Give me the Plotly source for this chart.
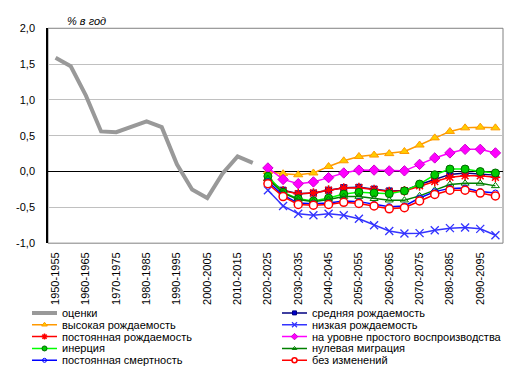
import plotly.graph_objects as go

# ---------------- data ----------------
categories = [f"{y}-{y+5}" for y in range(1950, 2100, 5)]
est_cats = categories[:14]
proj_cats = categories[14:]

estimates = [1.59, 1.47, 1.06, 0.56, 0.55, 0.63, 0.70, 0.62, 0.10, -0.25, -0.37, -0.03, 0.21, 0.12]

medium = [-0.11, -0.26, -0.31, -0.30, -0.26, -0.225, -0.22, -0.245, -0.27, -0.265, -0.18, -0.11, -0.04, -0.02, -0.03, -0.05]
high = [0.0, -0.03, -0.045, -0.02, 0.07, 0.15, 0.21, 0.23, 0.25, 0.28, 0.37, 0.47, 0.56, 0.61, 0.62, 0.61]
low = [-0.26, -0.48, -0.59, -0.61, -0.59, -0.61, -0.66, -0.75, -0.83, -0.865, -0.86, -0.82, -0.79, -0.78, -0.80, -0.89]
const_fert = [-0.12, -0.27, -0.31, -0.30, -0.26, -0.23, -0.225, -0.25, -0.28, -0.27, -0.20, -0.14, -0.08, -0.06, -0.06, -0.08]
replacement = [0.05, -0.11, -0.17, -0.145, -0.085, -0.02, 0.02, 0.02, 0.01, 0.01, 0.10, 0.19, 0.26, 0.31, 0.31, 0.26]
inertia = [-0.065, -0.29, -0.38, -0.41, -0.37, -0.315, -0.29, -0.30, -0.31, -0.27, -0.175, -0.045, 0.035, 0.035, 0.0, -0.02]
zero_mig = [-0.10, -0.30, -0.39, -0.42, -0.39, -0.35, -0.35, -0.38, -0.40, -0.40, -0.34, -0.26, -0.18, -0.165, -0.165, -0.20]
const_mort = [-0.14, -0.33, -0.44, -0.45, -0.44, -0.41, -0.42, -0.46, -0.49, -0.48, -0.37, -0.28, -0.235, -0.23, -0.28, -0.30]
no_change = [-0.17, -0.35, -0.46, -0.47, -0.46, -0.43, -0.445, -0.48, -0.52, -0.505, -0.41, -0.32, -0.26, -0.26, -0.30, -0.34]

names = ["оценки", "средняя рождаемость", "высокая рождаемость", "низкая рождаемость",
         "постоянная рождаемость", "на уровне простого воспроизводства", "инерция",
         "нулевая миграция", "постоянная смертность", "без изменений"]

y_tickvals = [-1.0, -0.5, 0.0, 0.5, 1.0, 1.5, 2.0]
y_ticktext = ["-1,0", "-0,5", "0,0", "0,5", "1,0", "1,5", "2,0"]
x_tickvals = categories[::2]

# ---------------- styles ----------------
W, H = 518, 376
FONT = "Liberation Sans, Arial, sans-serif"

styles = [
    dict(line=dict(color="#999999", width=4), marker=None),
    dict(line=dict(color="#000080", width=1.5), marker=dict(symbol="square", size=6, color="#0000CC", line=dict(color="#000080", width=1))),
    dict(line=dict(color="#FF9900", width=1.5), marker=dict(symbol="triangle-up", size=8, color="#FFCC00", line=dict(color="#FF9900", width=1))),
    dict(line=dict(color="#3333FF", width=1.5), marker=dict(symbol="x-thin-open", size=8, color="#3333FF", line=dict(color="#3333FF", width=1.3))),
    dict(line=dict(color="#FF0000", width=1.5), marker=dict(symbol="asterisk-open", size=8, color="#FF0000", line=dict(color="#FF0000", width=1.5))),
    dict(line=dict(color="#FF00FF", width=1.5), marker=dict(symbol="diamond", size=8, color="#FF00FF", line=dict(color="#CC00CC", width=1))),
    dict(line=dict(color="#00FF00", width=1.5), marker=dict(symbol="circle", size=8, color="#00CC00", line=dict(color="#006600", width=1))),
    dict(line=dict(color="#008000", width=1.5), marker=dict(symbol="triangle-up-open", size=7, color="#008000", line=dict(color="#008000", width=1))),
    dict(line=dict(color="#0000FF", width=1.5), marker=dict(symbol="circle-open", size=6, color="#0000FF", line=dict(color="#0000FF", width=1))),
    dict(line=dict(color="#FF0000", width=1.5), marker=dict(symbol="circle", size=8, color="#FFFFFF", line=dict(color="#FF0000", width=1.5))),
]

series = [estimates, medium, high, low, const_fert, replacement, inertia, zero_mig, const_mort, no_change]

fig = go.Figure()

for i, (nm, vals, st) in enumerate(zip(names, series, styles)):
    xs = est_cats if i == 0 else proj_cats
    kw = dict(x=xs, y=vals, name=nm, showlegend=False, line=st["line"], hoverinfo="skip")
    if st["marker"] is None:
        kw["mode"] = "lines"
    else:
        kw["mode"] = "lines+markers"
        kw["marker"] = st["marker"]
    fig.add_trace(go.Scatter(**kw))

# ---------------- custom compact legend (pixel-coordinate overlay axes) ----------------
LEG_TOP = 300
col_x = [32, 282]
row_y0, row_dy = 317, 12.25
seg = 25
annotations = []
for i, (nm, st) in enumerate(zip(names, styles)):
    r, c = divmod(i, 2)
    x0 = col_x[c]
    yy = row_y0 + r * row_dy
    fig.add_trace(go.Scatter(x=[x0, x0 + seg], y=[yy, yy], mode="lines",
                             line=dict(color=st["line"]["color"], width=st["line"]["width"]),
                             xaxis="x2", yaxis="y2", showlegend=False, hoverinfo="skip"))
    if st["marker"] is not None:
        m = dict(st["marker"])
        m["size"] = max(4, m["size"] - 3)
        fig.add_trace(go.Scatter(x=[x0 + seg / 2], y=[yy], mode="markers", marker=m,
                                 xaxis="x2", yaxis="y2", showlegend=False, hoverinfo="skip"))
    annotations.append(dict(x=x0 + seg + 3, y=yy, xref="x2", yref="y2", text=nm,
                            showarrow=False, xanchor="left", yanchor="middle",
                            font=dict(family=FONT, size=11, color="#000000")))

# plot area in pixels
PX_L, PX_R, PX_T, PX_B = 48, 503, 23, 245

annotations.append(dict(x=65 / W, y=1 - 15 / H, xref="paper", yref="paper", text="<i>% в год</i>",
                        showarrow=False, xanchor="left", yanchor="middle",
                        font=dict(family=FONT, size=11, color="#000000")))

fig.update_layout(
    width=W, height=H,
    margin=dict(l=0, r=0, t=0, b=0),
    paper_bgcolor="white", plot_bgcolor="white",
    showlegend=False,
    font=dict(family=FONT, size=11, color="#000000"),
    xaxis=dict(domain=[PX_L / W, PX_R / W], type="category", categoryorder="array",
               categoryarray=categories, range=[-0.5, len(categories) - 0.5],
               tickmode="array", tickvals=x_tickvals, ticktext=x_tickvals,
               tickangle=-90, showgrid=False, zeroline=False, showline=False,
               ticks="", ticklabelstandoff=6, tickfont=dict(family=FONT, size=11)),
    yaxis=dict(domain=[1 - PX_B / H, 1 - PX_T / H], range=[-1, 2],
               tickmode="array", tickvals=y_tickvals, ticktext=y_ticktext,
               showgrid=True, gridcolor="#C0C0C0", gridwidth=1,
               zeroline=True, zerolinecolor="#000000", zerolinewidth=1.3,
               showline=True, linecolor="#000000", linewidth=1.5,
               ticks="", ticklabelstandoff=9, tickfont=dict(family=FONT, size=11)),
    xaxis2=dict(domain=[0, 1], range=[0, W], visible=False, fixedrange=True),
    yaxis2=dict(domain=[0, (H - LEG_TOP) / H], range=[H, LEG_TOP], visible=False, fixedrange=True),
    annotations=annotations,
    shapes=[dict(type="rect", xref="x domain", yref="y domain", x0=0, x1=1, y0=0, y1=1,
                 line=dict(color="#808080", width=1), layer="below")],
)

fig.write_html("out.html", config={"displayModeBar": False},
               post_script="document.body.style.margin='0';document.body.style.overflow='hidden';")
